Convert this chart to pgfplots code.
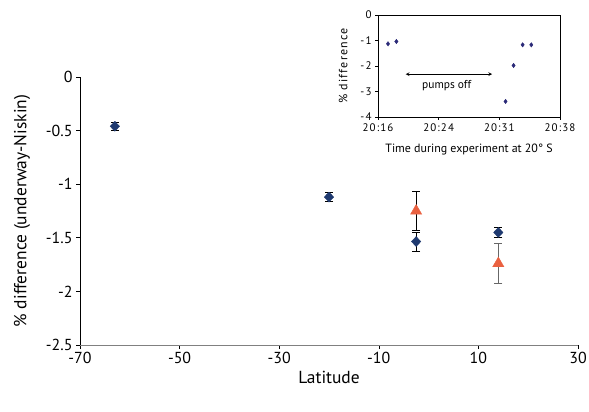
\documentclass[border=0pt]{standalone}
\usepackage{pgfplots}
\pgfplotsset{compat=1.18}
\usepackage{fontspec}
\setmainfont{PT Sans}
\newfontfamily\insetfont[LetterSpace=10]{PT Sans}
\definecolor{navy}{HTML}{1F3A70}
\definecolor{orng}{HTML}{EA6140}
\definecolor{dotblue}{HTML}{2B2A78}
\definecolor{axgray}{HTML}{808080}

\begin{document}
\begin{tikzpicture}
\useasboundingbox (0bp,0bp) rectangle (589bp,412bp);
% main chart
\begin{axis}[
    at={(80bp,67bp)}, anchor=south west,
    scale only axis, width=498bp, height=268bp,
    xmin=-70, xmax=30, ymin=-2.5, ymax=0,
    axis x line*=bottom, axis y line*=left,
    x axis line style={axgray, line width=0.8pt},
    y axis line style={black, line width=0.8pt},
    tick align=outside,
    major tick length=4bp,
    tick style={black, line width=0.6pt},
    xtick={-70,-50,...,30},
    ytick={-2.5,-2,...,0},
    /pgf/number format/assume math mode=true,
    tick label style={font=\fontsize{16}{18}\selectfont},
    xlabel={Latitude},
    ylabel={\% difference (underway-Niskin)},
    label style={font=\fontsize{17.5}{20}\selectfont},
    ylabel style={yshift=9bp},
    clip=false,
]
    \addplot+[only marks, mark=diamond*, mark size=5bp, navy, mark options={navy, fill=navy, xscale=1.25},
        error bars/.cd, y dir=both, y explicit,
        error bar style={black, line width=0.8pt},
        error mark options={black, mark size=4bp, line width=0.8pt, rotate=90}]
    coordinates {
        (-63,-0.46) +- (0,0.04)
        (-20,-1.12) +- (0,0.04)
        (-2.5,-1.535) +- (0,0.09)
        (14,-1.45) +- (0,0.05)
    };
    \addplot+[only marks, mark=triangle*, mark size=6.5bp, orng, mark options={orng, fill=orng},
        error bars/.cd, y dir=both, y explicit,
        error bar style={black, line width=0.8pt},
        error mark options={black, mark size=4bp, line width=0.8pt, rotate=90}]
    coordinates {
        (-2.5,-1.25) +- (0,0.18)
    };
    \addplot+[only marks, mark=triangle*, mark size=6.5bp, orng, mark options={orng, fill=orng},
        error bars/.cd, y dir=both, y explicit,
        error bar style={axgray!80!black, line width=1pt},
        error mark options={axgray!80!black, mark size=4bp, line width=1pt, rotate=90}]
    coordinates {
        (14,-1.74) +- (0,0.19)
    };
\end{axis}
% inset
\begin{axis}[
    at={(378bp,295bp)}, anchor=south west,
    scale only axis, width=182bp, height=102bp,
    xmin=0, xmax=22, ymin=-4, ymax=0,
    axis line style={black, line width=0.8pt},
    tick align=outside,
    xtick pos=bottom, ytick pos=left,
    major tick length=3bp,
    tick style={black, line width=0.6pt},
    xtick={0,7.3333,14.6667,22},
    xticklabels={20:16,20:24,20:31,20:38},
    ytick={-4,-3,...,0},
    /pgf/number format/assume math mode=true,
    tick label style={font=\insetfont\fontsize{11}{13}\selectfont},
    xlabel={Time during experiment at 20° S},
    ylabel={\% difference},
    xlabel style={font=\fontsize{12}{14}\selectfont, yshift=-6bp},
    ylabel style={font=\insetfont\fontsize{12}{14}\selectfont, yshift=6bp},
    clip=false,
]
    \addplot+[only marks, mark=diamond*, mark size=2.2bp, dotblue, mark options={dotblue, fill=dotblue}]
    coordinates {
        (1.21,-1.13) (2.22,-1.04) (15.42,-3.39) (16.39,-1.98) (17.48,-1.17) (18.53,-1.17)
    };
    \draw[<->, >=stealth, line width=0.7pt] (axis cs:3.35,-2.32) -- (axis cs:13.8,-2.32);
    \node[font=\fontsize{11.5}{13}\selectfont] at (axis cs:8.3,-2.76) {pumps off};
\end{axis}
\end{tikzpicture}
\end{document}
